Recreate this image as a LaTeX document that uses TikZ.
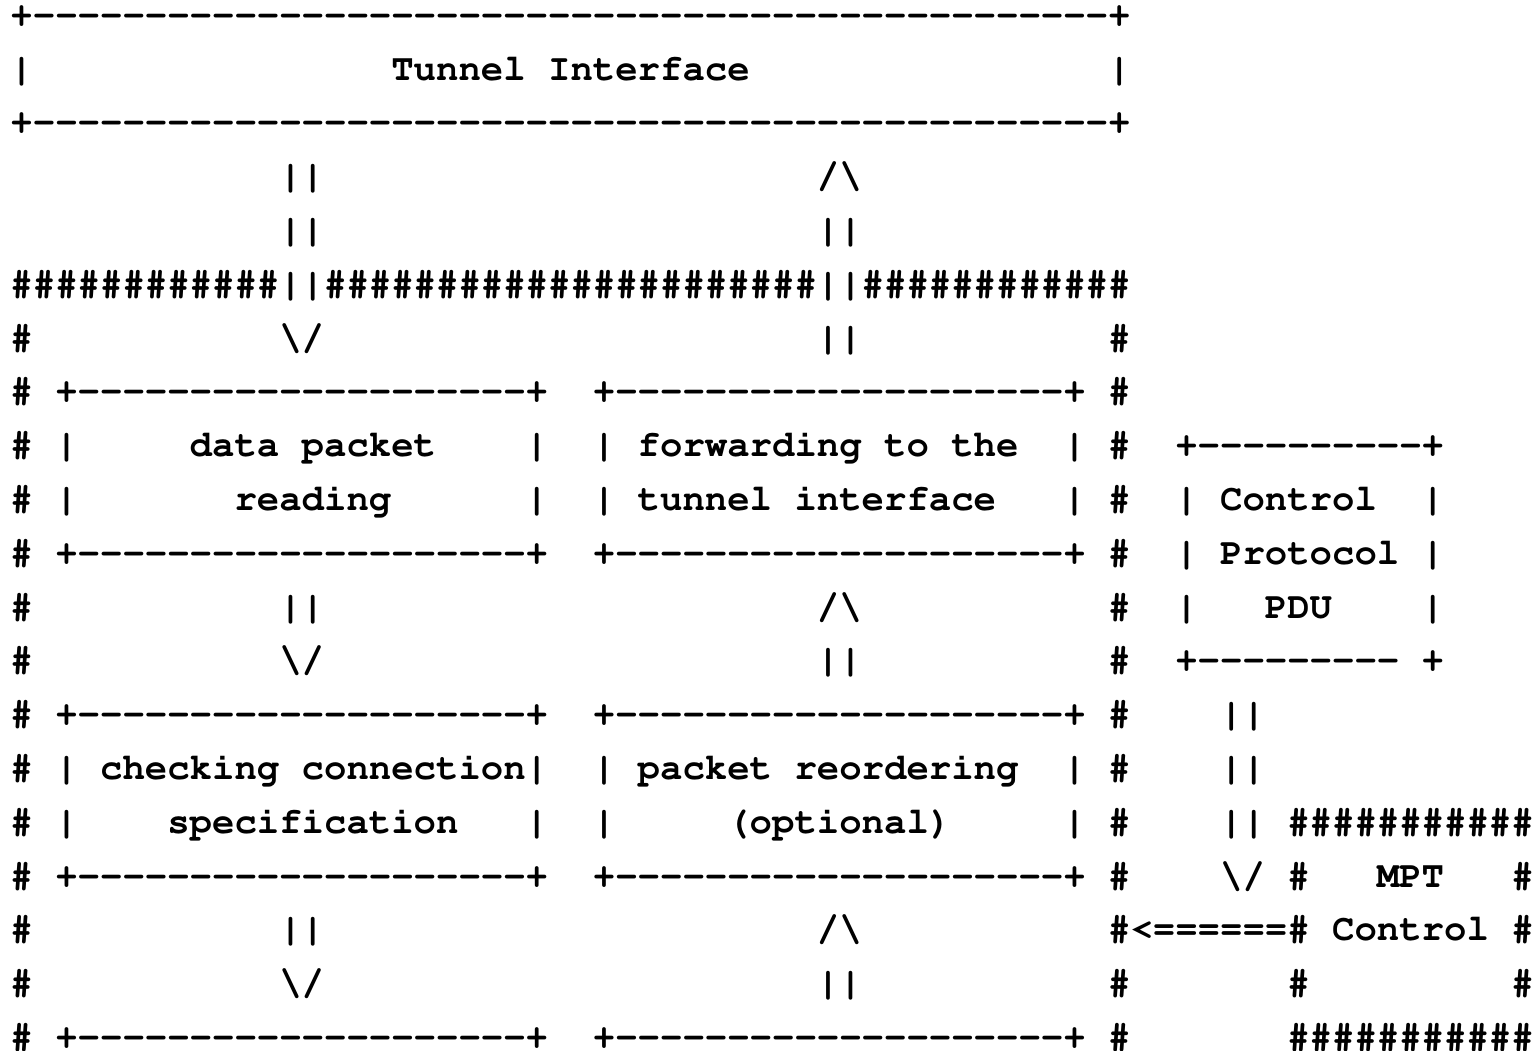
\documentclass[tikz,border=0pt]{standalone}
\usepackage[T1]{fontenc}
\ExplSyntaxOn
\cs_new:Npn \reps #1#2 { \prg_replicate:nn {#1} {#2} }
\ExplSyntaxOff
% one text run of the ASCII drawing, at column #1 of row #2
\newcommand{\seg}[3]{\node[ascii] (r#2c#1) at ({10.5+22.4*#1},{-26.2-53.8*(#2-1)}) {#3};}
\newcommand{\bs}{\textbackslash}
\newcommand{\dsh}{-{}}
\begin{document}
\begin{tikzpicture}[x=0.5pt,y=0.5pt,
  ascii/.style={anchor=base west, inner sep=0pt, outer sep=0pt, text=black,
    font=\fontencoding{T1}\fontfamily{pcr}\fontseries{b}\fontsize{18.667}{20}\selectfont}]
\fill[white] (0,0) rectangle (1537,-1050);
\useasboundingbox (0,0) rectangle (1537,-1050);
\frenchspacing
% row 1-3: tunnel interface
\seg{0}{1}{+\reps{48}{\dsh}+}
\seg{0}{2}{|}
\seg{17}{2}{Tunnel Interface}
\seg{49}{2}{|}
\seg{0}{3}{+\reps{48}{\dsh}+}
% row 4-7
\seg{12}{4}{||}
\seg{36}{4}{/\bs}
\seg{12}{5}{||}
\seg{36}{5}{||}
\seg{0}{6}{\reps{12}{\#}||\reps{22}{\#}||\reps{12}{\#}}
\seg{0}{7}{\#}
\seg{12}{7}{\bs/}
\seg{36}{7}{||}
\seg{49}{7}{\#}
% row 8-11: first boxes
\seg{0}{8}{\#}
\seg{2}{8}{+\reps{20}{\dsh}+}
\seg{26}{8}{+\reps{20}{\dsh}+}
\seg{49}{8}{\#}
\seg{0}{9}{\#}
\seg{2}{9}{|}
\seg{8}{9}{data packet}
\seg{23}{9}{|}
\seg{26}{9}{|}
\seg{28}{9}{forwarding to the}
\seg{47}{9}{|}
\seg{49}{9}{\#}
\seg{52}{9}{+\reps{10}{\dsh}+}
\seg{0}{10}{\#}
\seg{2}{10}{|}
\seg{10}{10}{reading}
\seg{23}{10}{|}
\seg{26}{10}{|}
\seg{28}{10}{tunnel interface}
\seg{47}{10}{|}
\seg{49}{10}{\#}
\seg{52}{10}{|}
\seg{54}{10}{Control}
\seg{63}{10}{|}
\seg{0}{11}{\#}
\seg{2}{11}{+\reps{20}{\dsh}+}
\seg{26}{11}{+\reps{20}{\dsh}+}
\seg{49}{11}{\#}
\seg{52}{11}{|}
\seg{54}{11}{Protocol}
\seg{63}{11}{|}
% row 12-13
\seg{0}{12}{\#}
\seg{12}{12}{||}
\seg{36}{12}{/\bs}
\seg{49}{12}{\#}
\seg{52}{12}{|}
\seg{56}{12}{PDU}
\seg{63}{12}{|}
\seg{0}{13}{\#}
\seg{12}{13}{\bs/}
\seg{36}{13}{||}
\seg{49}{13}{\#}
\seg{52}{13}{+\reps{9}{\dsh}}
\seg{63}{13}{+}
% row 14-17: second boxes
\seg{0}{14}{\#}
\seg{2}{14}{+\reps{20}{\dsh}+}
\seg{26}{14}{+\reps{20}{\dsh}+}
\seg{49}{14}{\#}
\seg{54}{14}{||}
\seg{0}{15}{\#}
\seg{2}{15}{|}
\seg{4}{15}{checking connection|}
\seg{26}{15}{|}
\seg{28}{15}{packet reordering}
\seg{47}{15}{|}
\seg{49}{15}{\#}
\seg{54}{15}{||}
\seg{0}{16}{\#}
\seg{2}{16}{|}
\seg{7}{16}{specification}
\seg{23}{16}{|}
\seg{26}{16}{|}
\seg{32}{16}{(optional)}
\seg{47}{16}{|}
\seg{49}{16}{\#}
\seg{54}{16}{||}
\seg{57}{16}{\reps{11}{\#}}
\seg{0}{17}{\#}
\seg{2}{17}{+\reps{20}{\dsh}+}
\seg{26}{17}{+\reps{20}{\dsh}+}
\seg{49}{17}{\#}
\seg{54}{17}{\bs/}
\seg{57}{17}{\#}
\seg{61}{17}{MPT}
\seg{67}{17}{\#}
% row 18-20
\seg{0}{18}{\#}
\seg{12}{18}{||}
\seg{36}{18}{/\bs}
\seg{49}{18}{\#<\reps{6}{=}\#}
\seg{59}{18}{Control}
\seg{67}{18}{\#}
\seg{0}{19}{\#}
\seg{12}{19}{\bs/}
\seg{36}{19}{||}
\seg{49}{19}{\#}
\seg{57}{19}{\#}
\seg{67}{19}{\#}
\seg{0}{20}{\#}
\seg{2}{20}{+\reps{20}{\dsh}+}
\seg{26}{20}{+\reps{20}{\dsh}+}
\seg{49}{20}{\#}
\seg{57}{20}{\reps{11}{\#}}
\end{tikzpicture}
\end{document}
